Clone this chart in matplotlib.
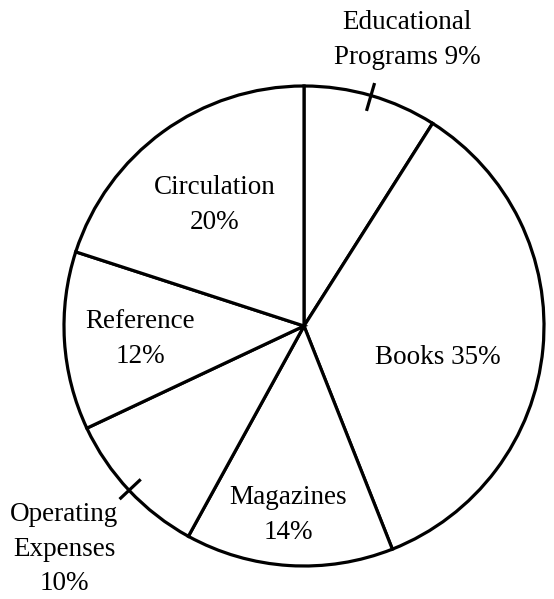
import numpy as np
import matplotlib
matplotlib.use("Agg")
import matplotlib.pyplot as plt

categories = ["Educational\nPrograms", "Books", "Magazines", "Operating\nExpenses", "Reference", "Circulation"]
values = [9, 35, 14, 10, 12, 20]
label_texts = ["Educational\nPrograms 9%", "Books 35%", "Magazines\n14%", "Operating\nExpenses\n10%", "Reference\n12%", "Circulation\n20%"]
external = [True, False, False, True, False, False]

W, H = 554, 599
fig = plt.figure(figsize=(W / 100, H / 100), dpi=100)
ax = fig.add_axes([0, 0, 1, 1])

cx, cy, R = 304, H - 326, 240
lw = 2.3
wedges, _ = ax.pie(values, startangle=90, counterclock=False, center=(cx, cy), radius=R,
                   colors=["white"] * len(values),
                   wedgeprops=dict(edgecolor="black", linewidth=lw), frame=True)
ax.set_xlim(0, W)
ax.set_ylim(0, H)
ax.set_aspect("equal")
ax.axis("off")

# tick marks for external labels at mid-angle of the slice
for w, ext in zip(wedges, external):
    if ext:
        a = np.deg2rad((w.theta1 + w.theta2) / 2)
        r0, r1 = R - 16, R + 13
        ax.plot([cx + r0 * np.cos(a), cx + r1 * np.cos(a)],
                [cy + r0 * np.sin(a), cy + r1 * np.sin(a)], color="black", lw=lw,
                solid_capstyle="butt")

# label positions (pixel coords from top)
pos = [(407, 40), (438, 358), (288, 515), (64, 549), (140, 339), (215, 205)]
for t, (x, y) in zip(label_texts, pos):
    ax.text(x, H - y, t, ha="center", va="center", fontsize=19.5,
            family="Liberation Serif", linespacing=1.5)

fig.savefig("out.png", dpi=100, facecolor="white")
